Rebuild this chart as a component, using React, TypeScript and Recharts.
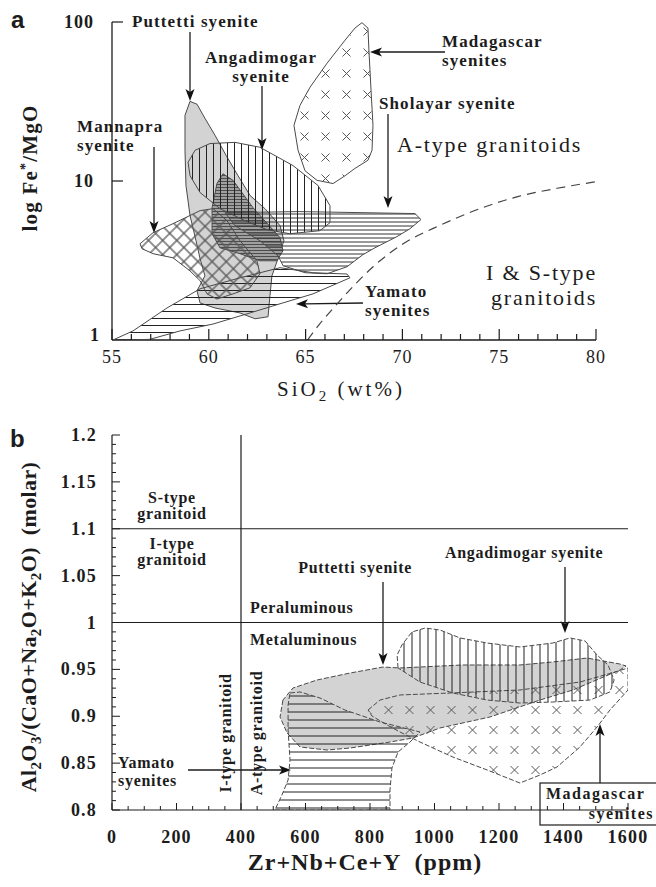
import React from 'react';
import { ComposedChart, Line, XAxis, YAxis, ReferenceLine } from 'recharts';

type Pt = { x: number; y: number };

// ---------------- Panel a : log Fe*/MgO vs SiO2 ----------------
const aXTicks = [55, 56, 57, 58, 59, 60, 61, 62, 63, 64, 65, 66, 67, 68, 69, 70, 71, 72, 73, 74, 75, 76, 77, 78, 79, 80];
const aXLabels = [55, 60, 65, 70, 75, 80];
const aYTicks = [1, 10, 100];

const aPuttetti: Pt[] = [
  { x: 59.03, y: 31.7 }, { x: 59.39, y: 30.4 }, { x: 59.8, y: 24.8 }, { x: 60.32, y: 19.4 }, { x: 60.89, y: 14.5 },
  { x: 61.51, y: 10.8 }, { x: 62.13, y: 8.11 }, { x: 62.9, y: 6.7 }, { x: 63.68, y: 5.24 }, { x: 63.88, y: 4.21 },
  { x: 63.57, y: 3.24 }, { x: 63.26, y: 2.53 }, { x: 63.16, y: 1.9 }, { x: 63.06, y: 1.4 }, { x: 62.39, y: 1.36 },
  { x: 61.61, y: 1.48 }, { x: 60.32, y: 1.59 }, { x: 59.55, y: 1.71 }, { x: 59.39, y: 2.04 }, { x: 59.8, y: 2.53 },
  { x: 59.55, y: 3.24 }, { x: 59.34, y: 4.21 }, { x: 59.03, y: 6.06 }, { x: 58.82, y: 9.37 }, { x: 58.77, y: 15.6 },
  { x: 58.77, y: 25.9 },
];
const aCore: Pt[] = [
  { x: 60.73, y: 11.1 }, { x: 61.25, y: 10.1 }, { x: 62.28, y: 6.8 }, { x: 63.68, y: 4.4 }, { x: 63.83, y: 3.64 },
  { x: 63.52, y: 3.15 }, { x: 62.64, y: 3.15 }, { x: 61.61, y: 3.49 }, { x: 60.58, y: 3.8 }, { x: 60.17, y: 4.66 },
  { x: 60.17, y: 6.8 }, { x: 60.42, y: 9.64 },
];
const aSholayar: Pt[] = [
  { x: 60.84, y: 6.32 }, { x: 64.71, y: 6.42 }, { x: 70.65, y: 6.24 }, { x: 70.96, y: 5.72 }, { x: 70.39, y: 5.01 },
  { x: 69.72, y: 4.47 }, { x: 68.58, y: 3.8 }, { x: 67.96, y: 3.44 }, { x: 67.14, y: 2.89 }, { x: 66.11, y: 2.61 },
  { x: 64.97, y: 2.65 }, { x: 63.84, y: 2.93 }, { x: 63.57, y: 3.39 }, { x: 62.64, y: 4.21 }, { x: 61.35, y: 5.24 },
];
const aYamato: Pt[] = [
  { x: 55.05, y: 1.0 }, { x: 56.08, y: 1.14 }, { x: 57.84, y: 1.59 }, { x: 59.55, y: 2.1 }, { x: 61.61, y: 2.46 },
  { x: 63.68, y: 2.85 }, { x: 65.38, y: 2.65 }, { x: 67.14, y: 2.6 }, { x: 67.29, y: 2.46 }, { x: 65.38, y: 1.95 },
  { x: 63.68, y: 1.69 }, { x: 61.97, y: 1.46 }, { x: 60.22, y: 1.26 }, { x: 58.51, y: 1.14 }, { x: 56.96, y: 1.01 },
  { x: 55.77, y: 1.0 },
];
const aMannapra: Pt[] = [
  { x: 56.45, y: 4.03 }, { x: 57.12, y: 4.73 }, { x: 58.15, y: 5.39 }, { x: 59.55, y: 6.51 }, { x: 60.22, y: 6.7 },
  { x: 60.94, y: 5.63 }, { x: 61.61, y: 4.21 }, { x: 62.49, y: 3.15 }, { x: 62.64, y: 2.61 }, { x: 62.13, y: 2.13 },
  { x: 61.25, y: 1.95 }, { x: 60.42, y: 1.81 }, { x: 59.91, y: 1.95 }, { x: 59.55, y: 2.36 }, { x: 59.03, y: 2.72 },
  { x: 58.15, y: 3.29 }, { x: 57.12, y: 3.49 }, { x: 56.55, y: 3.75 },
];
const aAngadimogar: Pt[] = [
  { x: 59.03, y: 10.8 }, { x: 58.93, y: 13.1 }, { x: 59.29, y: 15.6 }, { x: 60.06, y: 17.2 }, { x: 61.35, y: 17.5 },
  { x: 62.64, y: 16.3 }, { x: 64.35, y: 12.5 }, { x: 65.64, y: 9.37 }, { x: 66.26, y: 7.0 }, { x: 66.26, y: 5.47 },
  { x: 65.74, y: 4.87 }, { x: 64.19, y: 4.66 }, { x: 63.01, y: 4.94 }, { x: 61.97, y: 5.55 }, { x: 60.58, y: 6.7 },
  { x: 59.55, y: 8.46 },
];
const aMadagascar: Pt[] = [
  { x: 67.91, y: 99 }, { x: 68.22, y: 91.6 }, { x: 68.27, y: 66.6 }, { x: 68.38, y: 37.2 }, { x: 68.48, y: 22.4 },
  { x: 68.43, y: 15.6 }, { x: 68.22, y: 13.5 }, { x: 67.55, y: 12.0 }, { x: 67.04, y: 10.8 }, { x: 66.42, y: 9.64 },
  { x: 65.59, y: 10.1 }, { x: 64.97, y: 11.6 }, { x: 64.61, y: 15.6 }, { x: 64.4, y: 22.4 }, { x: 64.71, y: 29.9 },
  { x: 65.23, y: 38.9 }, { x: 66.11, y: 55.1 }, { x: 67.04, y: 76.9 }, { x: 67.55, y: 91.6 },
];
const aBoundary: Pt[] = [
  { x: 65.1, y: 1.0 }, { x: 65.7, y: 1.25 }, { x: 66.5, y: 1.62 }, { x: 67.5, y: 2.2 }, { x: 68.5, y: 2.9 },
  { x: 70, y: 4.0 }, { x: 72, y: 5.3 }, { x: 74, y: 6.7 }, { x: 76, y: 8.0 }, { x: 78, y: 9.0 }, { x: 80, y: 9.9 },
];

// ---------------- Panel b : A/CNK vs Zr+Nb+Ce+Y ----------------
const bXTicks = [0, 50, 100, 150, 200, 250, 300, 350, 400, 450, 500, 550, 600, 650, 700, 750, 800, 850, 900, 950,
  1000, 1050, 1100, 1150, 1200, 1250, 1300, 1350, 1400, 1450, 1500, 1550, 1600];
const bXLabels = [0, 200, 400, 600, 800, 1000, 1200, 1400, 1600];
const bYTicks = [0.8, 0.81, 0.82, 0.83, 0.84, 0.85, 0.86, 0.87, 0.88, 0.89, 0.9, 0.91, 0.92, 0.93, 0.94, 0.95,
  0.96, 0.97, 0.98, 0.99, 1, 1.01, 1.02, 1.03, 1.04, 1.05, 1.06, 1.07, 1.08, 1.09, 1.1, 1.11, 1.12, 1.13, 1.14,
  1.15, 1.16, 1.17, 1.18, 1.19, 1.2];
const bYLabels = [0.8, 0.85, 0.9, 0.95, 1, 1.05, 1.1, 1.15, 1.2];

const bPuttetti: Pt[] = [
  { x: 530, y: 0.9173 }, { x: 521, y: 0.8992 }, { x: 543, y: 0.8821 }, { x: 583, y: 0.8672 }, { x: 667, y: 0.864 },
  { x: 738, y: 0.8661 }, { x: 862, y: 0.8725 }, { x: 933, y: 0.8768 }, { x: 1017, y: 0.8875 }, { x: 1172, y: 0.8992 },
  { x: 1327, y: 0.9173 }, { x: 1429, y: 0.928 }, { x: 1575, y: 0.9493 }, { x: 1594, y: 0.9536 }, { x: 1575, y: 0.9557 },
  { x: 1473, y: 0.9621 }, { x: 1367, y: 0.9579 }, { x: 1265, y: 0.9547 }, { x: 1088, y: 0.9547 }, { x: 893, y: 0.9515 },
  { x: 840, y: 0.9525 }, { x: 738, y: 0.9461 }, { x: 636, y: 0.9387 }, { x: 561, y: 0.9301 },
];
const bYamato: Pt[] = [
  { x: 552, y: 0.9248 }, { x: 583, y: 0.9259 }, { x: 645, y: 0.9195 }, { x: 722, y: 0.9067 }, { x: 831, y: 0.8939 },
  { x: 955, y: 0.8832 }, { x: 924, y: 0.8725 }, { x: 887, y: 0.8619 }, { x: 868, y: 0.8448 }, { x: 862, y: 0.8213 },
  { x: 862, y: 0.8 }, { x: 505, y: 0.8 }, { x: 527, y: 0.816 }, { x: 546, y: 0.832 }, { x: 552, y: 0.8533 },
  { x: 546, y: 0.8853 }, { x: 546, y: 0.912 },
];
const bMadagascar: Pt[] = [
  { x: 794, y: 0.9067 }, { x: 831, y: 0.9173 }, { x: 893, y: 0.9227 }, { x: 1048, y: 0.9248 }, { x: 1265, y: 0.928 },
  { x: 1451, y: 0.9365 }, { x: 1560, y: 0.9472 }, { x: 1600, y: 0.9515 }, { x: 1600, y: 0.928 }, { x: 1544, y: 0.9067 },
  { x: 1504, y: 0.8885 }, { x: 1451, y: 0.8672 }, { x: 1380, y: 0.8459 }, { x: 1327, y: 0.8373 }, { x: 1265, y: 0.8288 },
  { x: 1163, y: 0.8427 }, { x: 1057, y: 0.8565 }, { x: 955, y: 0.8725 }, { x: 893, y: 0.8832 }, { x: 853, y: 0.8907 },
  { x: 806, y: 0.9003 },
];
const bAngadimogar: Pt[] = [
  { x: 887, y: 0.9515 }, { x: 884, y: 0.9653 }, { x: 899, y: 0.976 }, { x: 930, y: 0.9899 }, { x: 971, y: 0.9941 },
  { x: 1017, y: 0.992 }, { x: 1079, y: 0.9835 }, { x: 1163, y: 0.9781 }, { x: 1265, y: 0.9739 }, { x: 1367, y: 0.9781 },
  { x: 1420, y: 0.9835 }, { x: 1467, y: 0.9803 }, { x: 1504, y: 0.9653 }, { x: 1538, y: 0.9547 }, { x: 1557, y: 0.9387 },
  { x: 1544, y: 0.9259 }, { x: 1482, y: 0.9173 }, { x: 1367, y: 0.9152 }, { x: 1265, y: 0.9141 }, { x: 1163, y: 0.9173 },
  { x: 1057, y: 0.9248 }, { x: 955, y: 0.9365 },
];

// ---------------- helpers ----------------
const SERIF = '"Liberation Serif", "DejaVu Serif", "Times New Roman", serif';
const SANS = '"Liberation Sans", Arial, sans-serif';
const INK = '#1c1c1c';

const polyShape = (fill: string, stroke: string, dash?: string) => (props: any) => {
  const { index, points } = props;
  if (index !== 0 || !Array.isArray(points)) return <g key={`n-${index}`} />;
  const d = points.map((p: any, i: number) => `${i === 0 ? 'M' : 'L'}${p.x},${p.y}`).join(' ') + ' Z';
  return (
    <path key="poly" d={d} fill={fill} stroke={stroke} strokeWidth={1} strokeDasharray={dash}
      strokeLinejoin="round" />
  );
};

const Arrow = ({ x1, y1, x2, y2 }: { x1: number; y1: number; x2: number; y2: number }) => {
  const a = Math.atan2(y2 - y1, x2 - x1);
  const L = 12;
  const W = 4.5;
  const c = Math.cos(a);
  const s = Math.sin(a);
  const bx = x2 - L * c;
  const by = y2 - L * s;
  const pts = `${x2},${y2} ${bx - s * W},${by + c * W} ${bx + 3 * c},${by + 3 * s} ${bx + s * W},${by - c * W}`;
  return (
    <g>
      <line x1={x1} y1={y1} x2={bx + 3 * c} y2={by + 3 * s} stroke={INK} strokeWidth={1.3} />
      <polygon points={pts} fill="#111" />
    </g>
  );
};

const labA = { fontFamily: SERIF, fontSize: 17, fontWeight: 700, fill: INK, letterSpacing: 1.1 } as const;
const labB = { fontFamily: SERIF, fontSize: 16, fontWeight: 700, fill: INK, letterSpacing: 0.7 } as const;
const bigA = { fontFamily: SERIF, fontSize: 22, fill: INK, letterSpacing: 1.8 } as const;

// ---------------- ticks ----------------
const AXTick = (p: any) => {
  const { x, y, payload } = p;
  const v = payload.value;
  const major = aXLabels.includes(v);
  return (
    <g>
      <line x1={x} x2={x} y1={y} y2={y - (major ? 11 : 6)} stroke={INK} strokeWidth={1.2} />
      {major && (
        <text x={x} y={y + 23} textAnchor="middle" style={{ fontFamily: SERIF, fontSize: 18, fill: INK, letterSpacing: 1 }}>
          {v}
        </text>
      )}
    </g>
  );
};
const AYTick = (p: any) => {
  const { x, y, payload } = p;
  const v = payload.value;
  return (
    <g>
      {v !== 1 && <line x1={x} x2={x + 11} y1={y} y2={y} stroke={INK} strokeWidth={1.2} />}
      <text x={v === 1 ? x - 12 : x - 18} y={v === 1 ? y + 1 : y + 6} textAnchor="end"
        style={{ fontFamily: SERIF, fontSize: 18, fontWeight: 700, fill: INK, letterSpacing: 1 }}>
        {v}
      </text>
    </g>
  );
};
const isMajorX = (v: number) => bXLabels.includes(v);
const isMajorY = (v: number) => bYLabels.some((m) => Math.abs(m - v) < 1e-6);

const BXTick = (p: any) => {
  const { x, y, payload } = p;
  const v = payload.value;
  const major = isMajorX(v);
  return (
    <g>
      <line x1={x} x2={x} y1={y} y2={y - (major ? 7 : 4)} stroke={INK} strokeWidth={1} />
      {major && (
        <text x={x} y={y + 33} textAnchor="middle"
          style={{ fontFamily: SERIF, fontSize: 18, fontWeight: 700, fill: INK, letterSpacing: 1.2 }}>
          {v}
        </text>
      )}
    </g>
  );
};
const BXTopTick = (p: any) => {
  const { x, y, payload } = p;
  const major = isMajorX(payload.value);
  return <line x1={x} x2={x} y1={y} y2={y + (major ? 7 : 4)} stroke={INK} strokeWidth={1} />;
};
const BYTick = (p: any) => {
  const { x, y, payload } = p;
  const v = payload.value;
  const major = isMajorY(v);
  return (
    <g>
      <line x1={x} x2={x + (major ? 8 : 4)} y1={y} y2={y} stroke={INK} strokeWidth={1} />
      {major && (
        <text x={x - 15} y={y + 6} textAnchor="end"
          style={{ fontFamily: SERIF, fontSize: 18, fontWeight: 700, fill: INK, letterSpacing: 1.2 }}>
          {v}
        </text>
      )}
    </g>
  );
};
const BYRightTick = (p: any) => {
  const { x, y, payload } = p;
  const major = isMajorY(payload.value);
  return <line x1={x} x2={x - (major ? 8 : 4)} y1={y} y2={y} stroke={INK} strokeWidth={1} />;
};

// ---------------- panels ----------------
const aSeries = [
  { name: 'Puttetti', data: aPuttetti, fill: '#d3d3d3' },
  { name: 'core', data: aCore, fill: 'url(#aCore)' },
  { name: 'Sholayar', data: aSholayar, fill: 'url(#aHd)' },
  { name: 'Yamato', data: aYamato, fill: 'url(#aH)' },
  { name: 'Mannapra', data: aMannapra, fill: 'url(#aGrid)' },
  { name: 'Angadimogar', data: aAngadimogar, fill: 'url(#aV)' },
  { name: 'Madagascar', data: aMadagascar, fill: 'url(#aX)' },
];

const bSeries = [
  { name: 'Puttetti', data: bPuttetti, fill: '#d3d3d3' },
  { name: 'Yamato', data: bYamato, fill: 'url(#bH)' },
  { name: 'Madagascar', data: bMadagascar, fill: 'url(#bX)' },
  { name: 'Angadimogar', data: bAngadimogar, fill: 'url(#bV)' },
];

const PanelA = () => (
  <ComposedChart width={656} height={410} margin={{ top: 22, right: 60, bottom: 40, left: 0 }}>
    <defs>
      <pattern id="aV" width="7" height="7" patternUnits="userSpaceOnUse">
        <line x1="3.5" y1="0" x2="3.5" y2="7" stroke="#222" strokeWidth="1" />
      </pattern>
      <pattern id="aHd" width="4" height="4" patternUnits="userSpaceOnUse">
        <line x1="0" y1="2" x2="4" y2="2" stroke="#333" strokeWidth="1" />
      </pattern>
      <pattern id="aCore" width="3" height="3" patternUnits="userSpaceOnUse">
        <rect width="3" height="3" fill="#a0a0a0" />
        <line x1="0" y1="1.5" x2="3" y2="1.5" stroke="#444" strokeWidth="0.9" />
      </pattern>
      <pattern id="aH" width="7" height="7" patternUnits="userSpaceOnUse">
        <line x1="0" y1="3.5" x2="7" y2="3.5" stroke="#222" strokeWidth="1" />
      </pattern>
      <pattern id="aGrid" width="10" height="10" patternUnits="userSpaceOnUse" patternTransform="rotate(45)">
        <line x1="0" y1="5" x2="10" y2="5" stroke="#555" strokeWidth="1.3" />
        <line x1="5" y1="0" x2="5" y2="10" stroke="#555" strokeWidth="1.3" />
      </pattern>
      <pattern id="aX" width="21" height="21" patternUnits="userSpaceOnUse">
        <path d="M6.5,6.5 L14.5,14.5 M14.5,6.5 L6.5,14.5" stroke="#555" strokeWidth="1" />
      </pattern>
    </defs>
    <XAxis dataKey="x" type="number" domain={[55, 80]} ticks={aXTicks} interval={0} allowDataOverflow
      tick={AXTick} tickLine={false} tickSize={0} tickMargin={0} height={30} axisLine={{ stroke: INK, strokeWidth: 1.3 }} />
    <YAxis type="number" scale="log" domain={[1, 100]} ticks={aYTicks} interval={0} allowDataOverflow
      tick={AYTick} tickLine={false} tickSize={0} tickMargin={0} width={112} axisLine={{ stroke: INK, strokeWidth: 1.3 }} />
    {aSeries.map((s) => (
      <Line key={s.name} data={s.data} dataKey="y" stroke="none" dot={polyShape(s.fill, '#4a4a4a')}
        activeDot={false} isAnimationActive={false} />
    ))}
    <Line data={aBoundary} dataKey="y" type="monotone" stroke="#444" strokeWidth={1.2} strokeDasharray="9 6"
      dot={false} activeDot={false} isAnimationActive={false} />
    <g>
      <text x={11} y={28} style={{ fontFamily: SANS, fontSize: 24, fontWeight: 700, fill: INK }}>a</text>
      <text transform="translate(37,168) rotate(-90)" textAnchor="middle"
        style={{ fontFamily: SERIF, fontSize: 21, fontWeight: 700, fill: INK, letterSpacing: 1.2 }}>
        log Fe<tspan dy={-7} fontSize={14}>*</tspan><tspan dy={7}>/MgO</tspan>
      </text>
      <text x={277} y={396} style={{ fontFamily: SERIF, fontSize: 21, fill: INK, letterSpacing: 3 }}>
        SiO<tspan dy={5} fontSize={15}>2</tspan><tspan dy={-5}> (wt%)</tspan>
      </text>

      <text x={132} y={27} style={labA}>Puttetti syenite</text>
      <Arrow x1={190} y1={32} x2={190} y2={101} />
      <text x={261} y={63} textAnchor="middle" style={labA}>Angadimogar</text>
      <text x={261} y={82} textAnchor="middle" style={labA}>syenite</text>
      <Arrow x1={262} y1={86} x2={262} y2={150} />
      <text x={77} y={132} style={labA}>Mannapra</text>
      <text x={77} y={151} style={labA}>syenite</text>
      <Arrow x1={154} y1={147} x2={154} y2={233} />
      <text x={442} y={47} style={labA}>Madagascar</text>
      <text x={442} y={66} style={labA}>syenites</text>
      <Arrow x1={445} y1={52} x2={370} y2={52} />
      <text x={379} y={109} style={labA}>Sholayar syenite</text>
      <Arrow x1={388} y1={114} x2={388} y2={208} />
      <text x={397} y={152} style={bigA}>A-type granitoids</text>
      <text x={597} y={280} textAnchor="end" style={bigA}>I &amp; S-type</text>
      <text x={597} y={305} textAnchor="end" style={bigA}>granitoids</text>
      <text x={365} y={297} style={labA}>Yamato</text>
      <text x={365} y={316} style={labA}>syenites</text>
      <Arrow x1={363} y1={303} x2={296} y2={304} />
    </g>
  </ComposedChart>
);

const PanelB = () => (
  <ComposedChart width={656} height={467} margin={{ top: 15, right: 28, bottom: 47, left: 0 }}>
    <defs>
      <pattern id="bV" width="8" height="8" patternUnits="userSpaceOnUse">
        <line x1="4" y1="0" x2="4" y2="8" stroke="#222" strokeWidth="1" />
      </pattern>
      <pattern id="bH" width="8" height="8" patternUnits="userSpaceOnUse">
        <line x1="0" y1="4" x2="8" y2="4" stroke="#222" strokeWidth="1" />
      </pattern>
      <pattern id="bX" width="21" height="20" patternUnits="userSpaceOnUse">
        <path d="M6.5,6 L14.5,14 M14.5,6 L6.5,14" stroke="#555" strokeWidth="1" />
      </pattern>
    </defs>
    <XAxis dataKey="x" type="number" domain={[0, 1600]} ticks={bXTicks} interval={0} allowDataOverflow
      tick={BXTick} tickLine={false} tickSize={0} tickMargin={0} height={30} axisLine={{ stroke: INK, strokeWidth: 1.2 }} />
    <XAxis xAxisId="top" orientation="top" dataKey="x" type="number" domain={[0, 1600]} ticks={bXTicks} interval={0}
      allowDataOverflow tick={BXTopTick} tickLine={false} tickSize={0} tickMargin={0} height={0}
      axisLine={{ stroke: INK, strokeWidth: 1.2 }} />
    <YAxis type="number" domain={[0.8, 1.2]} ticks={bYTicks} interval={0} allowDataOverflow
      tick={BYTick} tickLine={false} tickSize={0} tickMargin={0} width={112} axisLine={{ stroke: INK, strokeWidth: 1.2 }} />
    <YAxis yAxisId="right" orientation="right" type="number" domain={[0.8, 1.2]} ticks={bYTicks} interval={0}
      allowDataOverflow tick={BYRightTick} tickLine={false} tickSize={0} tickMargin={0} width={0}
      axisLine={{ stroke: INK, strokeWidth: 1.2 }} />
    <ReferenceLine y={1.1} stroke={INK} strokeWidth={1.2} />
    <ReferenceLine y={1.0} stroke={INK} strokeWidth={1.2} />
    <ReferenceLine x={400} stroke={INK} strokeWidth={1.2} />
    {bSeries.map((s) => (
      <Line key={s.name} data={s.data} dataKey="y" stroke="none" dot={polyShape(s.fill, '#4a4a4a', '5 2')}
        activeDot={false} isAnimationActive={false} />
    ))}
    <g transform="translate(0,-420)">
      <text x={10} y={447} style={{ fontFamily: SANS, fontSize: 24, fontWeight: 700, fill: INK }}>b</text>
      <text transform="translate(36,627) rotate(-90)" textAnchor="middle"
        style={{ fontFamily: SERIF, fontSize: 22, fontWeight: 700, fill: INK, whiteSpace: 'pre', letterSpacing: 0.4 }}>
        Al<tspan dy={5} fontSize={15}>2</tspan><tspan dy={-5}>O</tspan><tspan dy={5} fontSize={15}>3</tspan>
        <tspan dy={-5}>/(CaO+Na</tspan><tspan dy={5} fontSize={15}>2</tspan><tspan dy={-5}>O+K</tspan>
        <tspan dy={5} fontSize={15}>2</tspan><tspan dy={-5}>O)  (molar)</tspan>
      </text>
      <text x={365} y={870} textAnchor="middle"
        style={{ fontFamily: SERIF, fontSize: 24, fontWeight: 700, fill: INK, whiteSpace: 'pre', letterSpacing: 1 }}>
        Zr+Nb+Ce+Y  (ppm)
      </text>

      <text x={172} y={503} textAnchor="middle" style={labB}>S-type</text>
      <text x={172} y={519} textAnchor="middle" style={labB}>granitoid</text>
      <text x={172} y={549} textAnchor="middle" style={labB}>I-type</text>
      <text x={172} y={565} textAnchor="middle" style={labB}>granitoid</text>
      <text x={250} y={613} style={labB}>Peraluminous</text>
      <text x={250} y={645} style={labB}>Metaluminous</text>
      <text x={412} y={573} textAnchor="end" style={labB}>Puttetti syenite</text>
      <Arrow x1={383} y1={582} x2={383} y2={665} />
      <text x={445} y={558} style={labB}>Angadimogar syenite</text>
      <Arrow x1={565} y1={567} x2={565} y2={633} />
      <text transform="translate(231,733) rotate(-90)" textAnchor="middle" style={labB}>I-type granitoid</text>
      <text transform="translate(262,733) rotate(-90)" textAnchor="middle" style={labB}>A-type granitoid</text>
      <text x={118} y={768} style={labB}>Yamato</text>
      <text x={118} y={786} style={labB}>syenites</text>
      <Arrow x1={188} y1={770} x2={291} y2={770} />
      <Arrow x1={600} y1={783} x2={600} y2={724} />
      <rect x={540} y={783} width={125} height={42} fill="#fff" stroke={INK} strokeWidth={1.2} />
      <text x={546} y={799} style={{ ...labB, fontSize: 16, letterSpacing: 1.5 }}>Madagascar</text>
      <text x={654} y={819} textAnchor="end" style={{ ...labB, fontSize: 16, letterSpacing: 1.5 }}>syenites</text>
    </g>
  </ComposedChart>
);

export default function App() {
  return (
    <div style={{ position: 'absolute', left: 0, top: 0, width: 656, height: 887, background: '#fff' }}>
      <div style={{ position: 'absolute', left: 0, top: 0 }}>
        <PanelA />
      </div>
      <div style={{ position: 'absolute', left: 0, top: 420 }}>
        <PanelB />
      </div>
    </div>
  );
}
